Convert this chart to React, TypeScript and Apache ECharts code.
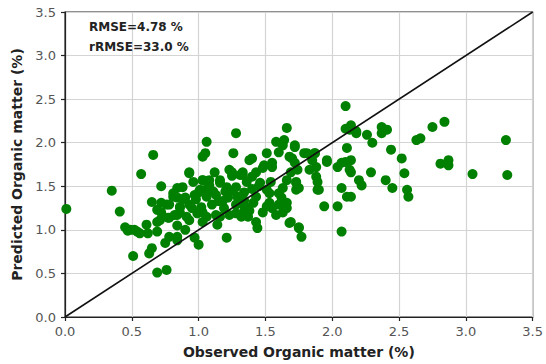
import React, { useEffect, useRef } from "react";
import * as echarts from "echarts";

// Observed (x) and predicted (y) organic matter
const observed: number[] = [
  0.01, 0.35, 0.41, 0.45, 0.47, 0.49, 0.54, 0.51, 0.57, 0.66, 0.65, 0.72, 0.72, 0.61, 0.62, 0.69,
  0.65, 0.63, 0.69, 0.76, 0.75, 0.78, 0.84, 0.90, 0.97, 1.00, 1.14, 1.21, 0.71, 0.77, 0.84, 0.69,
  0.86, 1.28, 0.76, 0.72, 0.78, 0.69, 0.52, 0.56, 0.81, 0.84, 0.93, 1.12, 1.03, 1.05, 1.06, 1.28,
  1.26, 1.25, 1.31, 0.84, 1.66, 1.58, 1.63, 1.72, 1.60, 1.51, 1.81, 1.68, 1.40, 1.72, 1.49, 1.55,
  1.85, 1.88, 1.89, 1.73, 1.75, 1.69, 1.33, 1.36, 1.40, 1.46, 1.54, 1.63, 1.53, 1.62, 1.66, 1.51,
  1.55, 1.63, 1.48, 1.34, 1.37, 1.43, 1.44, 1.69, 1.75, 1.77,
  2.10, 2.10, 2.14, 2.18, 2.26, 2.30, 2.37, 2.41, 2.11, 1.87, 1.88, 1.96, 2.04, 2.07, 2.14, 2.13,
  2.29, 2.40, 1.89, 1.90, 2.07, 2.20, 2.22, 2.11, 2.14, 1.94, 2.04, 2.07,
  2.37, 2.44, 2.52, 2.63, 2.66, 2.75, 2.84, 3.30, 2.14, 2.45, 2.54, 2.56, 2.57, 2.81, 2.87, 2.87,
  3.05, 3.31,
  0.93, 1.23, 0.84, 0.88, 0.96, 1.03, 1.01, 1.08, 1.16, 1.21, 1.28, 1.34, 0.81, 0.90, 0.97, 1.06,
  1.13, 1.22, 1.29, 0.78, 0.86, 0.93, 1.02, 1.10, 1.19, 1.28, 1.36, 0.82, 0.91, 0.99, 1.06, 1.13,
  1.23, 1.32, 0.93, 1.03, 0.86, 0.84, 1.33, 1.38, 1.41,
  1.64, 1.72, 1.79, 1.87, 1.96, 1.38, 1.55, 1.48, 1.70, 1.74, 1.83, 2.10, 2.13, 2.18, 1.08, 1.25,
  1.03, 1.16, 1.33, 1.43, 1.66, 1.73, 1.73, 1.60, 1.51, 1.43, 1.53, 1.60, 1.66, 1.58, 1.68, 1.75,
  1.33, 1.16, 1.03, 0.98, 1.11, 1.18, 1.25, 1.45, 1.00, 0.95, 1.15, 1.20, 0.88, 1.05, 1.40,
];
const predicted: number[] = [
  1.24, 1.45, 1.21, 1.03, 0.99, 1.00, 0.98, 0.70, 1.64, 1.86, 1.32, 1.31, 1.50, 1.06, 0.96, 0.98,
  0.79, 0.73, 0.51, 0.54, 0.85, 0.92, 0.88, 1.00, 0.91, 0.83, 1.06, 0.91, 1.11, 1.14, 1.17, 1.23,
  1.26, 1.19, 1.29, 1.20, 1.14, 1.09, 1.00, 0.96, 1.42, 1.37, 1.66, 1.66, 1.84, 1.88, 2.01, 2.11,
  1.88, 1.66, 1.63, 0.92, 2.17, 2.01, 1.97, 1.95, 1.89, 1.88, 1.88, 1.84, 1.82, 1.77, 1.74, 1.72,
  1.80, 1.61, 1.46, 1.55, 1.48, 1.66, 1.66, 1.55, 1.61, 1.54, 1.55, 1.48, 1.42, 1.37, 1.31, 1.27,
  1.25, 1.20, 1.20, 1.34, 1.15, 1.09, 1.02, 1.09, 1.02, 0.92,
  2.42, 2.16, 2.20, 2.11, 2.09, 2.00, 2.18, 2.15, 1.94, 1.88, 1.72, 1.78, 1.72, 1.77, 1.80, 1.69,
  1.66, 1.57, 1.55, 1.46, 1.48, 1.57, 1.51, 1.38, 1.38, 1.27, 1.27, 0.98,
  2.11, 1.92, 1.82, 2.03, 2.05, 2.18, 2.24, 2.03, 1.66, 1.48, 1.65, 1.46, 1.38, 1.76, 1.80, 1.74,
  1.64, 1.63,
  1.65, 1.69, 1.48, 1.49, 1.55, 1.57, 1.46, 1.51, 1.54, 1.49, 1.49, 1.43, 1.38, 1.37, 1.40, 1.38,
  1.40, 1.37, 1.38, 1.29, 1.26, 1.29, 1.26, 1.29, 1.25, 1.29, 1.26, 1.17, 1.15, 1.19, 1.15, 1.17,
  1.17, 1.15, 1.11, 1.09, 1.20, 1.05, 1.29, 1.22, 1.31,
  2.03, 1.97, 1.88, 1.88, 1.80, 1.80, 1.77, 1.71, 1.82, 1.69, 1.69, 1.78, 2.15, 2.13, 1.57, 1.62,
  1.57, 1.57, 1.63, 1.66, 1.57, 1.54, 1.46, 1.42, 1.46, 1.38, 1.31, 1.29, 1.25, 1.17, 1.08, 1.03,
  1.19, 1.15, 1.20, 1.35, 1.44, 1.33, 1.45, 1.50, 1.43, 1.25, 1.33, 1.44, 1.35, 1.46, 1.47,
];

const xTicks: number[] = [0, 0.5, 1, 1.5, 2, 2.5, 3, 3.5];
const yTicks: number[] = [0, 0.5, 1, 1.5, 2, 2.5, 3, 3.5];
const statLines: string[] = ["RMSE=4.78 %", "rRMSE=33.0 %"];
const xTitle = "Observed Organic matter (%)";
const yTitle = "Predicted Organic matter (%)";

export default function App() {
  const ref = useRef<HTMLDivElement>(null);
  useEffect(() => {
    if (!ref.current) return;
    const chart = echarts.init(ref.current, null, { renderer: "svg" });
    const pts = observed.map((x, i) => [x, predicted[i]]);
    const font = "DejaVu Sans";
    const axisCommon = (ticks: number[], labelMargin: number) => ({
      type: "value" as const,
      min: ticks[0],
      max: ticks[ticks.length - 1],
      interval: ticks[1] - ticks[0],
      axisLine: { show: true, onZero: false, lineStyle: { color: "#222", width: 1.2 } },
      axisTick: { show: true, inside: false, length: 4, lineStyle: { color: "#222", width: 1.2 } },
      splitLine: { show: true, lineStyle: { color: "#d4d4d4", width: 1.2 } },
      axisLabel: {
        color: "#555",
        fontSize: 13,
        fontFamily: font,
        formatter: (v: number) => v.toFixed(1),
        margin: labelMargin,
      },
      nameLocation: "middle" as const,
      nameTextStyle: { color: "#222", fontSize: 14, fontWeight: "bold" as const, fontFamily: font },
    });
    chart.setOption({
      animation: false,
      backgroundColor: "#ffffff",
      grid: { left: 65, right: 12, top: 12, bottom: 47, show: true, borderColor: "#222", borderWidth: 1.2 },
      xAxis: { ...axisCommon(xTicks, 8), name: xTitle, nameGap: 28 },
      yAxis: { ...axisCommon(yTicks, 9), name: yTitle, nameGap: 37 },
      graphic: statLines.map((t, i) => ({
        type: "text",
        left: 89,
        top: 21 + i * 20,
        style: { text: t, fill: "#222", font: `bold 12px "${font}"` },
        z: 10,
      })),
      series: [
        {
          type: "scatter",
          data: pts,
          symbol: "circle",
          symbolSize: 10,
          itemStyle: { color: "#008000", opacity: 1 },
          z: 2,
        },
        {
          type: "line",
          data: [[xTicks[0], yTicks[0]], [xTicks[xTicks.length - 1], yTicks[yTicks.length - 1]]],
          showSymbol: false,
          symbol: "none",
          lineStyle: { color: "#111", width: 1.6 },
          z: 3,
        },
      ],
    });
    return () => chart.dispose();
  }, []);
  return (
    <div
      ref={ref}
      style={{ position: "absolute", left: 0, top: 0, width: 546, height: 364 }}
    />
  );
}
